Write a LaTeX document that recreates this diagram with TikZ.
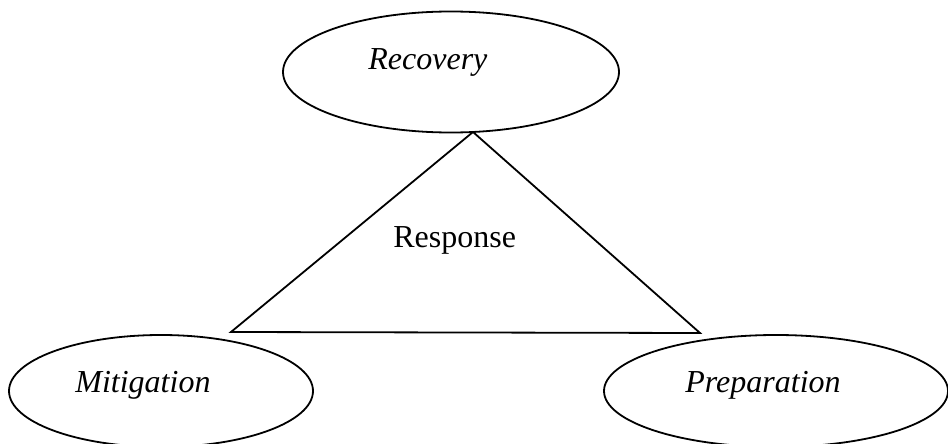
\documentclass[tikz,border=0pt]{standalone}
\usepackage{fontspec}
\setmainfont{Liberation Serif}
\usetikzlibrary{shapes.geometric}
\tikzset{
  phase/.style={draw, ellipse, line width=0.9pt, inner sep=0pt},
  phasetext/.style={font=\fontsize{16}{19}\selectfont\itshape, anchor=base west, inner sep=0pt},
  coretext/.style={font=\fontsize{16}{19}\selectfont, anchor=base west, inner sep=0pt},
  edge/.style={line width=0.9pt, line join=miter}
}
\begin{document}
\begin{tikzpicture}[x=0.5pt, y=-0.5pt]
  \clip (0,0) rectangle (948,444);
  \node[phase, minimum width=168pt, minimum height=60.5pt] (recovery) at (451,72) {};
  \node[phase, minimum width=152pt, minimum height=56pt] (mitigation) at (161,391) {};
  \node[phase, minimum width=172pt, minimum height=56pt] (preparation) at (776,391) {};
  \node[phasetext] (recoverylabel) at (368,70) {Recovery};
  \node[phasetext] (mitigationlabel) at (75,392) {Mitigation};
  \node[phasetext] (preparationlabel) at (685,392) {Preparation};
  \coordinate (apex) at (473,132);
  \coordinate (baseleft) at (231,332);
  \coordinate (baseright) at (700,333);
  \draw[edge] (apex) -- (baseright) -- (baseleft) -- cycle;
  \node[coretext] (response) at (393,247) {Response};
\end{tikzpicture}
\end{document}
